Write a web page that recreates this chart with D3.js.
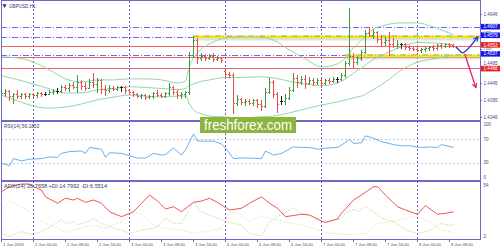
<!DOCTYPE html>
<html>
<head>
<meta charset="utf-8">
<script src="https://cdn.jsdelivr.net/npm/d3@7"></script>
<style>
  html, body { margin: 0; padding: 0; background: #fff; }
  svg { display: block; }
  text { font-family: "Liberation Sans", Arial, sans-serif; }
</style>
</head>
<body>
<div id="chart"></div>
<script>
// GBPUSD H1, 1 Jun 16:00 .. 8 Jun 09:00, one entry per bar
const openPrices = [
  1.4422,1.4416,1.4422,1.4407,1.4413,1.4407,1.4413,1.4407,1.4413,1.4410,
  1.4416,1.4413,1.4413,1.4419,1.4422,1.4422,1.4434,1.4431,1.4439,1.4434,
  1.4448,1.4436,1.4431,1.4448,1.4442,1.4454,1.4428,1.4425,1.4431,1.4428,
  1.4434,1.4434,1.4425,1.4419,1.4413,1.4407,1.4410,1.4404,1.4407,1.4416,
  1.4410,1.4407,1.4416,1.4434,1.4419,1.4410,1.4413,1.4419,1.4527,1.4570,
  1.4518,1.4524,1.4518,1.4524,1.4515,1.4518,1.4480,1.4471,1.4468,1.4387,
  1.4399,1.4390,1.4393,1.4387,1.4396,1.4384,1.4378,1.4419,1.4448,1.4413,
  1.4393,1.4393,1.4402,1.4425,1.4460,1.4448,1.4457,1.4445,1.4454,1.4448,
  1.4454,1.4445,1.4454,1.4451,1.4457,1.4457,1.4468,1.4503,1.4524,1.4506,
  1.4518,1.4535,1.4591,1.4585,1.4594,1.4573,1.4565,1.4570,1.4559,1.4553,
  1.4559,1.4559,1.4550,1.4547,1.4544,1.4541,1.4544,1.4547,1.4550,1.4547,
  1.4556,1.4553,1.4559,1.4556
];
const highPrices = [
  1.4431,1.4428,1.4425,1.4416,1.4425,1.4416,1.4416,1.4416,1.4416,1.4419,
  1.4419,1.4419,1.4425,1.4428,1.4431,1.4439,1.4439,1.4445,1.4448,1.4468,
  1.4454,1.4448,1.4457,1.4474,1.4460,1.4457,1.4439,1.4439,1.4436,1.4436,
  1.4436,1.4436,1.4428,1.4422,1.4416,1.4413,1.4413,1.4410,1.4419,1.4425,
  1.4416,1.4419,1.4445,1.4436,1.4425,1.4419,1.4422,1.4535,1.4582,1.4576,
  1.4533,1.4530,1.4530,1.4533,1.4524,1.4521,1.4483,1.4477,1.4474,1.4410,
  1.4402,1.4399,1.4399,1.4399,1.4399,1.4396,1.4431,1.4460,1.4454,1.4419,
  1.4407,1.4413,1.4434,1.4474,1.4468,1.4466,1.4468,1.4463,1.4460,1.4460,
  1.4460,1.4457,1.4460,1.4463,1.4463,1.4474,1.4509,1.4663,1.4533,1.4524,
  1.4541,1.4599,1.4608,1.4602,1.4597,1.4585,1.4579,1.4594,1.4576,1.4570,
  1.4562,1.4562,1.4556,1.4553,1.4550,1.4547,1.4550,1.4553,1.4556,1.4559,
  1.4562,1.4562,1.4562,1.4559
];
const lowPrices = [
  1.4404,1.4407,1.4396,1.4387,1.4402,1.4402,1.4402,1.4402,1.4404,1.4404,
  1.4407,1.4410,1.4413,1.4413,1.4416,1.4419,1.4425,1.4422,1.4431,1.4419,
  1.4428,1.4425,1.4431,1.4434,1.4419,1.4416,1.4410,1.4419,1.4425,1.4425,
  1.4422,1.4416,1.4413,1.4407,1.4404,1.4402,1.4399,1.4402,1.4402,1.4407,
  1.4404,1.4404,1.4410,1.4413,1.4402,1.4402,1.4404,1.4413,1.4521,1.4503,
  1.4512,1.4512,1.4515,1.4509,1.4512,1.4506,1.4463,1.4463,1.4358,1.4381,
  1.4384,1.4381,1.4384,1.4381,1.4375,1.4367,1.4375,1.4416,1.4404,1.4361,
  1.4384,1.4384,1.4399,1.4422,1.4434,1.4442,1.4431,1.4442,1.4439,1.4442,
  1.4434,1.4442,1.4445,1.4448,1.4448,1.4454,1.4463,1.4498,1.4492,1.4501,
  1.4512,1.4533,1.4582,1.4576,1.4565,1.4556,1.4556,1.4527,1.4550,1.4547,
  1.4547,1.4544,1.4541,1.4541,1.4538,1.4535,1.4538,1.4541,1.4541,1.4544,
  1.4547,1.4550,1.4550,1.4550
];
const closePrices = [
  1.4416,1.4422,1.4407,1.4413,1.4407,1.4413,1.4407,1.4413,1.4410,1.4416,
  1.4413,1.4413,1.4419,1.4422,1.4422,1.4434,1.4431,1.4439,1.4434,1.4448,
  1.4436,1.4431,1.4448,1.4442,1.4454,1.4428,1.4425,1.4431,1.4428,1.4434,
  1.4434,1.4425,1.4419,1.4413,1.4407,1.4410,1.4404,1.4407,1.4416,1.4410,
  1.4407,1.4416,1.4434,1.4419,1.4410,1.4413,1.4419,1.4527,1.4570,1.4518,
  1.4524,1.4518,1.4524,1.4515,1.4518,1.4512,1.4471,1.4468,1.4387,1.4399,
  1.4390,1.4393,1.4387,1.4396,1.4384,1.4378,1.4419,1.4448,1.4413,1.4384,
  1.4393,1.4402,1.4425,1.4460,1.4448,1.4457,1.4445,1.4454,1.4448,1.4454,
  1.4445,1.4454,1.4451,1.4457,1.4457,1.4468,1.4503,1.4524,1.4506,1.4518,
  1.4535,1.4591,1.4585,1.4594,1.4573,1.4565,1.4570,1.4559,1.4553,1.4559,
  1.4559,1.4550,1.4547,1.4544,1.4541,1.4544,1.4547,1.4550,1.4547,1.4556,
  1.4553,1.4559,1.4556,1.4553
];

// Bollinger bands, read at these bars
const bbIndex  = [0,4,8,12,16,20,24,28,32,36,40,44,46,47,48,50,52,56,60,64,68,72,76,80,84,86,88,90,92,96,100,104,108,113];
const bbUpper  = [1.4521,1.4518,1.4506,1.4483,1.4457,1.4448,1.4454,1.4454,1.4457,1.4457,1.4454,1.4445,1.4451,1.4495,1.4518,1.4544,1.4559,1.4576,1.4579,1.4579,1.4570,1.4541,1.4515,1.4492,1.4501,1.4518,1.4547,1.4570,1.4594,1.4614,1.4620,1.4620,1.4608,1.4585];
const bbMiddle = [1.4466,1.4455,1.4442,1.4428,1.4416,1.4416,1.4425,1.4429,1.4434,1.4432,1.4429,1.4426,1.4429,1.4439,1.4442,1.4450,1.4454,1.4461,1.4461,1.4463,1.4460,1.4450,1.4442,1.4437,1.4445,1.4457,1.4474,1.4489,1.4506,1.4531,1.4551,1.4563,1.4562,1.4556];
const bbLower  = [1.4410,1.4393,1.4378,1.4372,1.4375,1.4384,1.4396,1.4404,1.4410,1.4407,1.4404,1.4407,1.4407,1.4384,1.4367,1.4355,1.4349,1.4346,1.4343,1.4346,1.4349,1.4358,1.4370,1.4381,1.4390,1.4396,1.4402,1.4407,1.4419,1.4448,1.4483,1.4506,1.4515,1.4527];

const rsiIndex  = [0,2,3,5,7,10,12,14,15,17,20,21,22,25,26,27,30,32,34,36,38,40,41,43,44,45,46,48,49,51,53,55,56,58,60,61,62,65,66,68,70,73,75,77,79,81,84,85,87,88,90,91,93,95,98,100,102,105,107,109,110,113];
const rsiValues = [29,25,37,33,36,37,40,39,46,49,50,46,56,53,39,47,46,42,38,38,46,43,44,55,49,43,52,79,67,67,67,62,55,37,38,38,38,37,50,43,46,57,56,56,53,55,56,60,70,63,64,76,72,66,61,59,59,56,57,56,61,56.19];

const adxIndex  = [0,2,5,7,8,10,11,14,16,18,19,21,23,25,27,30,33,35,37,39,41,43,45,48,50,52,54,55,57,60,62,65,67,69,71,75,77,80,81,84,85,88,90,93,94,96,99,101,104,106,109,111,113];
const adxValues = [46.5,51.4,54,54,51.4,48.1,41.5,35.1,40,38.3,40,36,38.3,35.1,26.8,21.9,26.8,35.1,43.2,37.3,29.5,31.7,26.8,36,37.3,40,36,33.4,28.5,30.2,35.1,41.5,35.1,30.2,21.9,24.3,23.6,17.7,16.4,19.7,25.3,38.3,43.2,51.4,51.4,43.2,31.7,28.5,24.3,32.7,24.3,25.3,26.77];
const plusDiIndex  = [0,2,5,8,10,13,15,16,18,19,22,23,25,28,30,32,35,38,40,41,43,45,48,50,52,54,56,60,62,65,67,69,73,75,77,80,82,85,86,88,89,91,93,95,98,100,101,104,106,108,110,112,113];
const plusDiValues = [5.5,2.3,7.2,4.6,7.2,13.8,18.7,15.4,17,13.8,17.7,20.4,15.4,10.5,8.9,5.6,8.9,10.5,15.4,20.4,15.4,15.4,36.6,26.8,23.6,20.4,17,13.8,5.6,3.3,17,21.9,30.8,25.3,23.6,17,17,20.4,25.3,29.5,26.8,31.7,26.8,20.4,17,12.1,8.9,5.6,7.2,10.5,15.4,13.1,14.8];
const minusDiIndex  = [0,2,5,8,10,14,16,19,23,26,30,33,35,38,41,45,48,51,55,57,60,62,65,67,70,75,79,82,87,91,94,97,101,104,107,110,113];
const minusDiValues = [26.8,37.3,31.7,23.6,17,10.5,6.6,9.9,13.8,10.5,17,26.8,23.6,13.8,10.5,8.9,5.6,7.2,10.5,26.8,23.6,17,22.9,20.4,17.7,13.8,8.9,5.6,4,5.6,15.4,16.4,20.4,21.9,17,8.9,6.55];

const timeLabels = ["1 Jun 2016","2 Jun 00:00","2 Jun 08:00","2 Jun 16:00","3 Jun 00:00","3 Jun 08:00","3 Jun 16:00",
  "6 Jun 00:00","6 Jun 08:00","6 Jun 16:00","7 Jun 00:00","7 Jun 08:00","7 Jun 16:00","8 Jun 00:00","8 Jun 08:00"];
const dayStarts = [8,32,56,80,104];
const priceTicks = [1.4646,1.4595,1.4545,1.4495,1.4445,1.4395,1.4346];
const rsiTicks = [100,70,30,0];
const rsiLevels = [70,30];
const adxTicks = [54,2];

const blueLevels = [1.4607,1.4579,1.4527];
const redLevels = [1.4553,1.4521,1.4489];
const zoneStart = [47.9,85.9];
const zonePrice = [1.4579,1.4524];
const tagText  = ["1.4607","1.4579","1.4553","1.4537","1.4488"];
const tagPrice = [1.4609,1.4584,1.4556,1.4530,1.4487];
const tagBlue  = [true,true,false,true,false];

const upArrowBars = [113.6,114.4,115.3,119.1];
const upArrowPrices = [1.4550,1.4541,1.4533,1.4580];
const downArrowBars = [115.8,118.6];
const downArrowPrices = [1.4530,1.4431];

const W = 500, H = 250;
const frameColor = '#6c6cc4';
const textColor = '#4a4a88';

const svg = d3.select('#chart').append('svg')
  .attr('width', W).attr('height', H)
  .attr('viewBox', [0, 0, W, H]);

const x = d3.scaleLinear().domain([0, 119.625]).range([1.5, 480]);
const yPrice = d3.scaleLinear().domain([1.4346, 1.4646]).range([117, 14]);
const yRsi = d3.scaleLinear().domain([0, 100]).range([180.2, 121.8]);
const yAdx = d3.scaleLinear().domain([2, 54]).range([237, 184]);

const defs = svg.append('defs');
[['clipMain', 1, 120], ['clipRsi', 122, 180], ['clipAdx', 182, 239]].forEach(([id, y0, y1]) => {
  defs.append('clipPath').attr('id', id)
    .append('rect').attr('x', 1).attr('y', y0).attr('width', 479).attr('height', y1 - y0);
});
defs.append('marker').attr('id', 'headBlue')
  .attr('viewBox', '0 0 8 8').attr('refX', 7).attr('refY', 4)
  .attr('markerWidth', 6).attr('markerHeight', 6).attr('markerUnits', 'userSpaceOnUse')
  .attr('orient', 'auto')
  .append('path').attr('d', 'M1,1L7,4L1,7').attr('fill', 'none')
  .attr('stroke', '#2233cc').attr('stroke-width', 1.5);
defs.append('marker').attr('id', 'headPink')
  .attr('viewBox', '0 0 8 8').attr('refX', 7).attr('refY', 4)
  .attr('markerWidth', 6).attr('markerHeight', 6).attr('markerUnits', 'userSpaceOnUse')
  .attr('orient', 'auto')
  .append('path').attr('d', 'M1,1L7,4L1,7').attr('fill', 'none')
  .attr('stroke', '#e0207a').attr('stroke-width', 1.5);

svg.append('rect').attr('width', W).attr('height', H).attr('fill', '#fff');

// day separators
svg.append('g').selectAll('line').data(dayStarts).join('line')
  .attr('x1', d => x(d)).attr('x2', d => x(d))
  .attr('y1', 1).attr('y2', 239)
  .attr('stroke', '#6a6ab8').attr('stroke-dasharray', '2,2');

// ---- main panel
const main = svg.append('g').attr('clip-path', 'url(#clipMain)');

main.append('g').selectAll('line').data(blueLevels).join('line')
  .attr('x1', 1).attr('x2', 480)
  .attr('y1', d => Math.round(yPrice(d)) + 0.5).attr('y2', d => Math.round(yPrice(d)) + 0.5)
  .attr('stroke', '#6a6aff').attr('stroke-dasharray', '6,2,1,2');

main.append('g').selectAll('line').data(redLevels).join('line')
  .attr('x1', 1).attr('x2', 480)
  .attr('y1', d => Math.round(yPrice(d)) + 0.5).attr('y2', d => Math.round(yPrice(d)) + 0.5)
  .attr('stroke', '#f26464');

const zones = main.append('g').selectAll('g').data(d3.range(zoneStart.length)).join('g');
zones.append('line')
  .attr('x1', i => x(zoneStart[i])).attr('x2', 480)
  .attr('y1', i => yPrice(zonePrice[i]) + 2).attr('y2', i => yPrice(zonePrice[i]) + 2)
  .attr('stroke', '#bdbdbd').attr('stroke-width', 3).attr('opacity', 0.45);
zones.append('line')
  .attr('x1', i => x(zoneStart[i])).attr('x2', 480)
  .attr('y1', i => yPrice(zonePrice[i])).attr('y2', i => yPrice(zonePrice[i]))
  .attr('stroke', '#eeee10').attr('stroke-width', 2.5);
zones.append('line')
  .attr('x1', i => x(zoneStart[i])).attr('x2', 480)
  .attr('y1', i => yPrice(zonePrice[i]) - 1).attr('y2', i => yPrice(zonePrice[i]) - 1)
  .attr('stroke', '#808080').attr('stroke-width', 0.7).attr('stroke-dasharray', '6,2,1,2');

const bbLine = d3.line().x(d => x(d[0])).y(d => yPrice(d[1])).curve(d3.curveMonotoneX);
[bbUpper, bbMiddle, bbLower].forEach(band => {
  main.append('path').datum(d3.zip(bbIndex, band))
    .attr('d', bbLine).attr('fill', 'none')
    .attr('stroke', '#8ed6ae').attr('stroke-width', 1);
});

const barColor = i => closePrices[i] > openPrices[i] ? '#3f9a3f'
  : closePrices[i] < openPrices[i] ? '#f04b4b' : '#202020';
const bars = main.append('g').attr('shape-rendering', 'crispEdges')
  .selectAll('g').data(d3.range(openPrices.length)).join('g')
  .attr('fill', barColor);
bars.append('rect')
  .attr('x', i => x(i) - 0.5).attr('width', 1)
  .attr('y', i => Math.round(yPrice(highPrices[i])))
  .attr('height', i => Math.max(1, Math.round(yPrice(lowPrices[i])) - Math.round(yPrice(highPrices[i])) + 1));
bars.append('rect')
  .attr('x', i => x(i) - 1.5).attr('width', 1).attr('height', 1)
  .attr('y', i => Math.round(yPrice(openPrices[i])));
bars.append('rect')
  .attr('x', i => x(i) + 0.5).attr('width', 1).attr('height', 1)
  .attr('y', i => Math.round(yPrice(closePrices[i])));

const arrowLine = d3.line().x(d => x(d[0])).y(d => yPrice(d[1]));
svg.append('path').datum(d3.zip(upArrowBars, upArrowPrices))
  .attr('d', arrowLine.curve(d3.curveCatmullRom)).attr('fill', 'none')
  .attr('stroke', '#2233cc').attr('stroke-width', 1.3)
  .attr('marker-end', 'url(#headBlue)');
svg.append('path').datum(d3.zip(downArrowBars, downArrowPrices))
  .attr('d', d3.line().x(d => x(d[0])).y(d => yPrice(d[1]))).attr('fill', 'none')
  .attr('stroke', '#e0207a').attr('stroke-width', 1.3)
  .attr('marker-end', 'url(#headPink)');

// ---- RSI panel
const rsiPanel = svg.append('g').attr('clip-path', 'url(#clipRsi)');
rsiPanel.append('g').selectAll('line').data(rsiLevels).join('line')
  .attr('x1', 1).attr('x2', 480)
  .attr('y1', d => Math.round(yRsi(d)) + 0.5).attr('y2', d => Math.round(yRsi(d)) + 0.5)
  .attr('stroke', '#c8c8c8').attr('stroke-dasharray', '2,2');
rsiPanel.append('path').datum(d3.zip(rsiIndex, rsiValues))
  .attr('d', d3.line().x(d => x(d[0])).y(d => yRsi(d[1])))
  .attr('fill', 'none').attr('stroke', '#62b0f2').attr('stroke-width', 1);

// ---- ADX panel
const adxPanel = svg.append('g').attr('clip-path', 'url(#clipAdx)');
const adxLine = d3.line().x(d => x(d[0])).y(d => yAdx(d[1]));
adxPanel.append('path').datum(d3.zip(minusDiIndex, minusDiValues))
  .attr('d', adxLine).attr('fill', 'none')
  .attr('stroke', '#f2d2a8').attr('stroke-width', 1).attr('stroke-dasharray', '1,1.5');
adxPanel.append('path').datum(d3.zip(plusDiIndex, plusDiValues))
  .attr('d', adxLine).attr('fill', 'none')
  .attr('stroke', '#b4d46a').attr('stroke-width', 1).attr('stroke-dasharray', '1,1.5');
adxPanel.append('path').datum(d3.zip(adxIndex, adxValues))
  .attr('d', adxLine).attr('fill', 'none')
  .attr('stroke', '#f05454').attr('stroke-width', 1);

// ---- frame
const frame = svg.append('g').attr('shape-rendering', 'crispEdges').attr('fill', 'none');
frame.append('rect').attr('x', 1.5).attr('y', 0.5).attr('width', 478.5).attr('height', 238.5)
  .attr('stroke', frameColor);
[120, 180].forEach(y => {
  frame.append('rect').attr('x', 1).attr('y', y).attr('width', 479.5).attr('height', 2)
    .attr('fill', frameColor);
});

// ---- price axis: tick labels squeezed into the gaps left by the price tags
const tagHalf = 2.8;
const tickSize = 4.6;
const tagBoxes = tagPrice.map(p => [yPrice(p) - tagHalf, yPrice(p) + tagHalf]).sort((a, b) => a[0] - b[0]);
const gaps = [[-Infinity, tagBoxes[0][0]]];
tagBoxes.forEach((b, i) => gaps.push([b[1], i + 1 < tagBoxes.length ? tagBoxes[i + 1][0] : Infinity]));
const placeTick = v => {
  const y = yPrice(v);
  const gap = gaps.find(g => y >= g[0] && y <= g[1])
    || d3.least(gaps, g => Math.min(Math.abs(y - g[0]), Math.abs(y - g[1])));
  const room = gap[1] - gap[0];
  const size = Math.min(tickSize, room / 1.25);
  const half = size * 0.6;
  return { y: Math.max(gap[0] + half, Math.min(gap[1] - half, y)), size };
};
const axisText = svg.append('g').attr('font-size', tickSize).attr('fill', textColor);
axisText.selectAll('.pt').data(priceTicks.map(v => ({ v, ...placeTick(v) }))).join('text')
  .attr('x', 483.5).attr('y', d => d.y).attr('dy', '0.35em')
  .attr('font-size', d => d.size).text(d => d.v.toFixed(4));
svg.append('g').attr('stroke', frameColor).attr('shape-rendering', 'crispEdges')
  .selectAll('line').data(priceTicks).join('line')
  .attr('x1', 480).attr('x2', 482)
  .attr('y1', d => Math.round(yPrice(d)) + 0.5).attr('y2', d => Math.round(yPrice(d)) + 0.5);

axisText.selectAll('.rt').data(rsiTicks).join('text')
  .attr('x', 483.5).attr('y', d => yRsi(d) + (d === 100 ? 3 : d === 0 ? -3 : 0))
  .attr('dy', '0.35em').text(d => d);
axisText.selectAll('.at').data(adxTicks).join('text')
  .attr('x', 483.5).attr('y', (d, i) => yAdx(d) + (i === 0 ? 1 : -1))
  .attr('dy', '0.35em').text(d => d);

const tags = svg.append('g').selectAll('g').data(d3.range(tagText.length)).join('g');
tags.append('rect')
  .attr('x', 481).attr('y', i => yPrice(tagPrice[i]) - tagHalf)
  .attr('width', 19).attr('height', tagHalf * 2)
  .attr('fill', i => tagBlue[i] ? '#1818e6' : '#e82020');
tags.append('text')
  .attr('x', 483.5).attr('y', i => yPrice(tagPrice[i])).attr('dy', '0.35em')
  .attr('font-size', tickSize).attr('fill', '#fff').text(i => tagText[i]);

const timeIdx = timeLabels.map((_, i) => i * 8);
svg.append('g').attr('stroke', frameColor).attr('shape-rendering', 'crispEdges')
  .selectAll('line').data(timeIdx).join('line')
  .attr('x1', d => x(d)).attr('x2', d => x(d)).attr('y1', 239).attr('y2', 242);
svg.append('g').attr('font-size', 4.2).attr('fill', textColor)
  .selectAll('text').data(timeLabels).join('text')
  .attr('x', (d, i) => x(timeIdx[i]) + 1.5).attr('y', 246)
  .text(d => d);

// ---- titles
svg.append('path')
  .attr('d', d3.symbol(d3.symbolTriangle, 8))
  .attr('transform', 'translate(4.5,5.5) rotate(180)')
  .attr('fill', '#303070');
const titles = svg.append('g').attr('fill', '#3a3a70');
titles.append('text').attr('x', 9).attr('y', 7.5).attr('font-size', 4.6).text('GBPUSD,H1');
titles.append('text').attr('x', 4).attr('y', 127.5).attr('font-size', 4.8).text('RSI(14) 56.1853');
titles.append('text').attr('x', 4).attr('y', 188).attr('font-size', 5.6)
  .text('ADX(14) 26.7658 +DI:14.7992 -DI:6.5514');

// ---- watermark
const mark = svg.append('g');
mark.append('rect').attr('x', 200).attr('y', 117).attr('width', 96).attr('height', 16)
  .attr('fill', '#8db43c');
mark.append('text').attr('x', 204).attr('y', 130)
  .attr('font-family', '"Open Sans", sans-serif').attr('font-size', 14)
  .attr('textLength', 88).attr('lengthAdjust', 'spacingAndGlyphs')
  .attr('fill', '#fff').text('freshforex.com');
</script>
</body>
</html>
